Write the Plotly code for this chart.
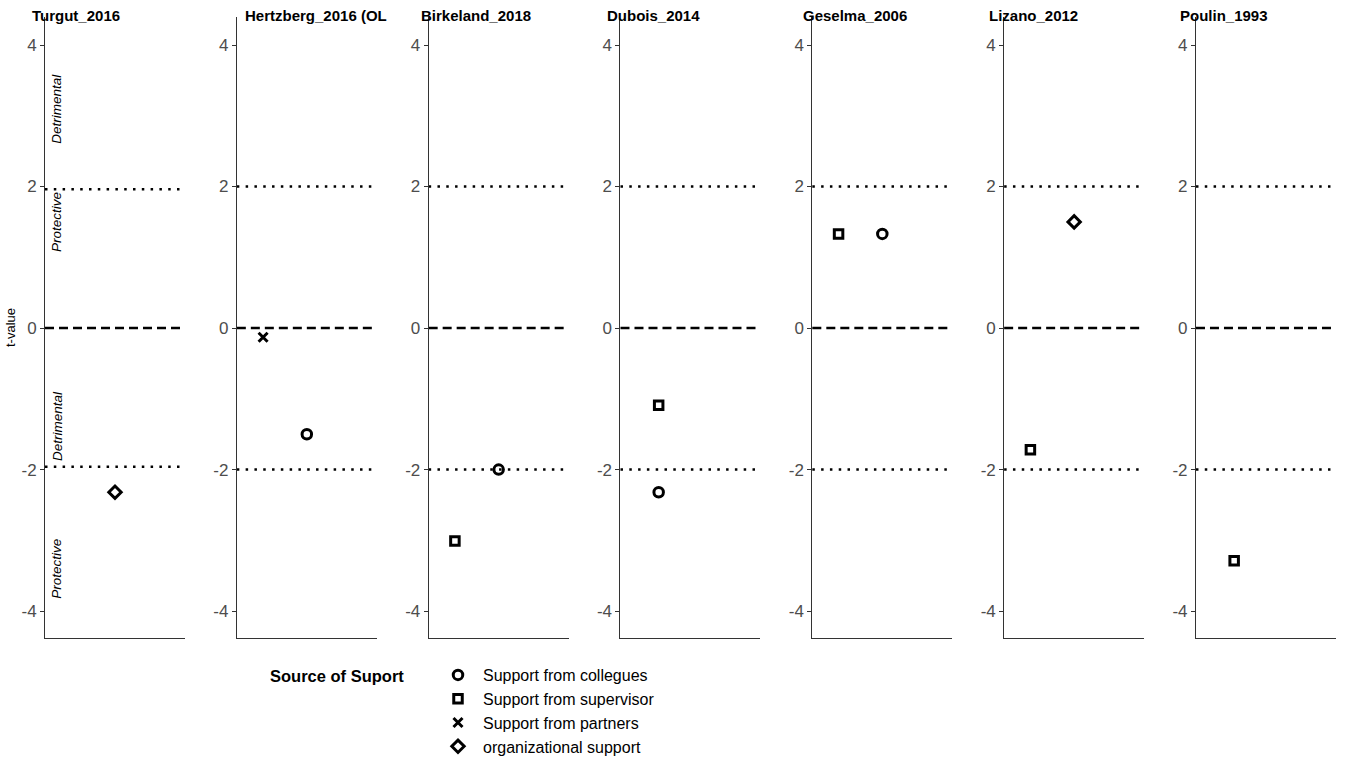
import plotly.graph_objects as go

# Studies shown as separate panels, with the number of x slots in each panel
studies = ["Turgut_2016", "Hertzberg_2016 (OL", "Birkeland_2018", "Dubois_2014",
           "Geselma_2006", "Lizano_2012", "Poulin_1993"]
n_slots = [3, 3, 3, 2, 3, 3, 2]
cutoff = [1.96, 2, 2, 2, 2, 2, 2]

# Support sources (legend order)
sources = ["Support from collegues", "Support from supervisor",
           "Support from partners", "organizational support"]
symbols = ["circle-open", "square-open", "x-thin-open", "diamond-open"]
sizes = [9.5, 8.5, 9, 9.5]

# Observations: study index, source index, x slot, t-value
obs_study = [0, 1, 1, 2, 2, 3, 3, 4, 4, 5, 5, 6]
obs_source = [3, 2, 0, 1, 0, 1, 0, 1, 0, 1, 3, 1]
obs_slot = [2, 1, 2, 1, 2, 1, 1, 1, 2, 1, 2, 1]
obs_t = [-2.32, -0.13, -1.5, -3.01, -2.0, -1.09, -2.32, 1.33, 1.33, -1.72, 1.5, -3.29]

# Region labels in the first panel
region_text = ["Detrimental", "Protective", "Detrimental", "Protective"]
region_y = [3.1, 1.5, -1.385, -3.4]

W, H = 1345, 758
left0, step, pw = 45, 191.83, 140
y_top_px, y_bot_px = 17, 638
y_range = [-4.38, 4.396]
title_left_px = [30, 243, 419, 605, 801, 987, 1178]

fig = go.Figure()
layout = dict(
    width=W, height=H, margin=dict(l=0, r=0, t=0, b=0, autoexpand=False),
    paper_bgcolor="white", plot_bgcolor="white",
    font=dict(family="Liberation Sans, Arial, sans-serif", color="black"),
    showlegend=True,
)
shapes, annotations = [], []

for i, name in enumerate(studies):
    sfx = "" if i == 0 else str(i + 1)
    x0 = (left0 + i * step) / W
    x1 = (left0 + i * step + pw) / W
    layout["xaxis" + sfx] = dict(
        domain=[x0, x1], range=[0.4, n_slots[i] + 0.6], anchor="y" + sfx,
        showgrid=False, zeroline=False, showticklabels=False, ticks="",
        showline=True, linecolor="#333333", linewidth=1, fixedrange=True)
    layout["yaxis" + sfx] = dict(
        domain=[(H - y_bot_px) / H, (H - y_top_px) / H], range=y_range,
        anchor="x" + sfx, showgrid=False, zeroline=False,
        tickvals=[-4, -2, 0, 2, 4], ticktext=["-4", "-2", "0", "2", "4"],
        ticks="outside", ticklen=4, tickcolor="#333333",
        tickfont=dict(size=17, color="#4d4d4d"),
        showline=True, linecolor="#333333", linewidth=1, fixedrange=True)

    xr, yr = "x" + sfx, "y" + sfx
    shapes.append(dict(type="line", xref=xr + " domain", yref=yr, x0=0, x1=1, y0=0, y1=0,
                       line=dict(color="black", width=2.5, dash="9px,5px"), layer="below"))
    for c in (cutoff[i], -cutoff[i]):
        shapes.append(dict(type="line", xref=xr + " domain", yref=yr, x0=0, x1=1, y0=c, y1=c,
                           line=dict(color="black", width=2.5, dash="2.5px,6.3px"), layer="below"))

    annotations.append(dict(text="<b>%s</b>" % name, xref="paper", yref="paper",
                            x=title_left_px[i] / W, y=(H - 15) / H,
                            xanchor="left", yanchor="middle",
                            showarrow=False, font=dict(size=15, color="black")))

    for s in range(len(sources)):
        xs = [obs_slot[k] for k in range(len(obs_t)) if obs_study[k] == i and obs_source[k] == s]
        ys = [obs_t[k] for k in range(len(obs_t)) if obs_study[k] == i and obs_source[k] == s]
        fig.add_trace(go.Scatter(
            x=xs if xs else [None], y=ys if ys else [None], xaxis=xr, yaxis=yr,
            mode="markers", name=sources[s], legendgroup=sources[s],
            showlegend=(i == 0), legendrank=s + 1,
            marker=dict(symbol=symbols[s], size=sizes[s], color="black",
                        line=dict(color="black", width=3)),
            hoverinfo="skip"))

for txt, yv in zip(region_text, region_y):
    annotations.append(dict(text="<i>%s</i>" % txt, xref="x domain", yref="y",
                            x=12 / pw, y=yv, textangle=-90, showarrow=False,
                            xanchor="center", yanchor="middle",
                            font=dict(size=13.5, color="black")))

annotations.append(dict(text="t-value", xref="paper", yref="paper", x=10 / W, y=(H - 328) / H,
                        textangle=-90, showarrow=False, xanchor="center", yanchor="middle",
                        font=dict(size=13, color="black")))
annotations.append(dict(text="<b>Source of Suport</b>", xref="paper", yref="paper",
                        x=268 / W, y=(H - 676) / H, xanchor="left", yanchor="middle",
                        showarrow=False, font=dict(size=16.5, color="black")))

layout["legend"] = dict(x=433 / W, y=(H - 658) / H, xanchor="left", yanchor="top",
                        font=dict(size=16, color="black"), bgcolor="rgba(0,0,0,0)",
                        itemwidth=40,
                        itemclick=False, itemdoubleclick=False, tracegroupgap=0)
layout["shapes"] = shapes
layout["annotations"] = annotations
fig.update_layout(**layout)

fig.write_html("out.html")
